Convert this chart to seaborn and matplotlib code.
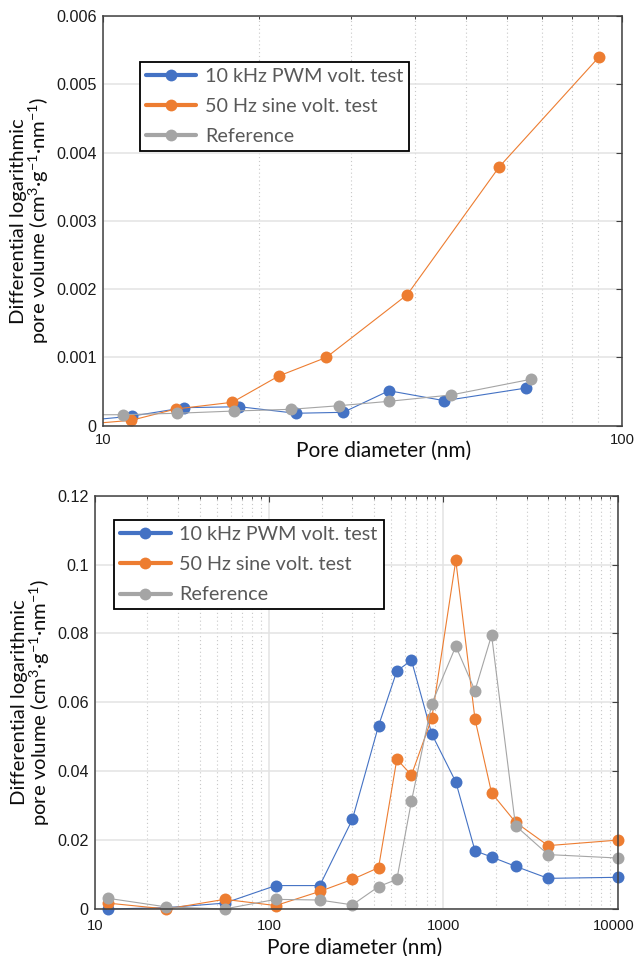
import numpy as np
import pandas as pd
import matplotlib
matplotlib.use("Agg")
import matplotlib.pyplot as plt
import matplotlib.transforms as mtransforms
import seaborn as sns
from matplotlib.ticker import LogLocator, FuncFormatter, NullFormatter
from matplotlib.lines import Line2D

# ---------------- data ----------------
series_names = ["10 kHz PWM volt. test", "50 Hz sine volt. test", "Reference"]
series_colors = ["#4472C4", "#ED7D31", "#A5A5A5"]

# top panel (pore diameter nm, dV/dlogD)
top_d_pwm = [9.0, 11.36, 14.34, 18.31, 23.51, 29.04, 35.56, 45.47, 65.4]
top_v_pwm = [0.000067, 0.00014, 0.000264, 0.000278, 0.000182, 0.000196, 0.000512, 0.000366, 0.000552]
top_d_sine = [9.0, 11.34, 13.82, 17.75, 21.81, 26.93, 38.58, 58.0, 90.3]
top_v_sine = [0.000015, 0.000079, 0.000245, 0.000343, 0.000728, 0.001, 0.00192, 0.00379, 0.0054]
top_d_ref = [9.0, 10.93, 13.86, 17.91, 22.99, 28.53, 35.56, 46.83, 66.8]
top_v_ref = [0.00016, 0.000161, 0.000182, 0.000215, 0.00024, 0.000293, 0.000357, 0.00045, 0.00068]

# bottom panel
bot_d = [11.9, 25.7, 55.4, 109, 195, 300, 424, 540, 655, 857, 1177, 1517, 1889, 2591, 3985, 10000]
bot_v_pwm = [0.0, 0.0004, 0.0017, 0.0068, 0.0068, 0.026, 0.0532, 0.0691, 0.0722, 0.0508,
             0.0369, 0.0169, 0.0151, 0.0124, 0.0089, 0.0092]
bot_v_sine = [0.0017, 0.0, 0.0028, 0.001, 0.0051, 0.0086, 0.012, 0.0435, 0.0389, 0.0554,
              0.1012, 0.0551, 0.0337, 0.0252, 0.0184, 0.0200]
bot_v_ref = [0.0031, 0.0006, 0.0, 0.0028, 0.0026, 0.0012, 0.0065, 0.0086, 0.0313, 0.0596,
             0.0763, 0.0634, 0.0795, 0.0242, 0.0158, 0.0148]

top_yticks = [0, 0.001, 0.002, 0.003, 0.004, 0.005, 0.006]
bot_yticks = [0, 0.02, 0.04, 0.06, 0.08, 0.1, 0.12]
top_xticks = [10, 100]
bot_xticks = [10, 100, 1000, 10000]

xlabel = "Pore diameter (nm)"
ylabel = "Differential logarithmic\npore volume (cm$^{3}$·g$^{-1}$·nm$^{-1}$)"


def make_df(ds, vs):
    frames = []
    for name, d, v in zip(series_names, ds, vs):
        frames.append(pd.DataFrame({"d": d, "v": v, "series": name}))
    return pd.concat(frames, ignore_index=True)


df_top = make_df([top_d_pwm, top_d_sine, top_d_ref], [top_v_pwm, top_v_sine, top_v_ref])
df_bot = make_df([bot_d, bot_d, bot_d], [bot_v_pwm, bot_v_sine, bot_v_ref])

# ---------------- style ----------------
sns.set_style("white")
plt.rcParams["font.family"] = ["Lato", "DejaVu Sans"]
plt.rcParams["mathtext.fontset"] = "custom"
plt.rcParams["mathtext.rm"] = "Lato"
plt.rcParams["mathtext.it"] = "Lato:italic"
plt.rcParams["mathtext.bf"] = "Lato:bold"
plt.rcParams["mathtext.default"] = "regular"

palette = dict(zip(series_names, series_colors))

fig = plt.figure(figsize=(6.36, 9.56), dpi=100)
ax1 = fig.add_axes([103 / 636, 1 - 425.7 / 956, 519 / 636, 409.7 / 956])
ax2 = fig.add_axes([95 / 636, 1 - 909 / 956, 522.7 / 636, 413.3 / 956])

tick_fmt = FuncFormatter(lambda v, p: "%g" % v)


def style_axes(ax, xlim, ylim, yticks, xticks, ypad, xpad):
    ax.set_xscale("log")
    ax.set_xlim(*xlim)
    ax.set_ylim(*ylim)
    ax.set_yticks(yticks)
    ax.set_xticks(xticks)
    ax.xaxis.set_minor_locator(LogLocator(base=10, subs=np.arange(2, 10), numticks=20))
    ax.xaxis.set_minor_formatter(NullFormatter())
    ax.xaxis.set_major_formatter(tick_fmt)
    ax.yaxis.set_major_formatter(tick_fmt)
    ax.grid(True, which="major", axis="both", color="#e3e3e3", linewidth=1.1, linestyle="-")
    ax.grid(True, which="minor", axis="x", color="#c8c8c8", linewidth=0.8, linestyle=(0, (1, 2.5)))
    ax.set_axisbelow(True)
    for s in ax.spines.values():
        s.set_color("#404040")
        s.set_linewidth(1.1)
    ax.tick_params(which="both", direction="in", top=True, right=True, colors="#404040",
                   labelcolor="#1a1a1a")
    ax.tick_params(which="major", length=4, width=0.8)
    ax.tick_params(which="minor", length=2.5, width=0.7)
    ax.tick_params(axis="y", pad=ypad)
    ax.tick_params(axis="x", pad=xpad)
    for lab in ax.get_yticklabels():
        lab.set_fontfamily(["Liberation Sans", "DejaVu Sans"])
        lab.set_fontsize(11.6)
    for lab in ax.get_xticklabels():
        lab.set_fontfamily(["Liberation Sans", "DejaVu Sans"])
        lab.set_fontsize(10.6)


for ax, df, clip in [(ax1, df_top, True), (ax2, df_bot, False)]:
    sns.lineplot(data=df, x="d", y="v", hue="series", hue_order=series_names, palette=palette,
                 marker="o", markersize=8.6, markeredgewidth=0, linewidth=0.8,
                 estimator=None, sort=False, legend=False, ax=ax, clip_on=clip)

style_axes(ax1, (10, 100), (0, 0.006), top_yticks, top_xticks, ypad=4.5, xpad=5)
style_axes(ax2, (10, 10000), (0, 0.12), bot_yticks, bot_xticks, ypad=4.5, xpad=7)

for ax, lx, ly, ty in [(ax1, -0.0996, 0.54, -0.036), (ax2, -0.0817, 0.497, -0.07)]:
    ax.set_xlabel(xlabel, fontsize=15, color="#0d0d0d")
    ax.set_ylabel(ylabel, fontsize=14.6, color="#0d0d0d", linespacing=0.98)
    ax.yaxis.set_label_coords(lx, 0.5)
    ax.xaxis.set_label_coords(ly, ty)

handles = [Line2D([0], [0], color=c, linewidth=3, marker="o", markersize=8.5,
                  markeredgewidth=0) for c in series_colors]

for ax, anchor in [(ax1, (0.0713, 0.8877)), (ax2, (0.037, 0.941))]:
    leg = ax.legend(handles, series_names, loc="upper left", bbox_to_anchor=anchor,
                    fontsize=14.2, frameon=True, fancybox=False, framealpha=1,
                    edgecolor="black", borderpad=0.3, handlelength=2.55, handletextpad=0.45,
                    labelspacing=0.67, borderaxespad=0)
    leg.get_frame().set_linewidth(1.3)
    for t in leg.get_texts():
        t.set_color("#595959")

# nudge the "10000" label so it stays within the canvas
fig.canvas.draw()
last = ax2.xaxis.get_major_ticks()[-1].label1
last.set_transform(last.get_transform() +
                   mtransforms.ScaledTranslation(-3 / 72, 0, fig.dpi_scale_trans))

fig.savefig("out.png", dpi=100)
